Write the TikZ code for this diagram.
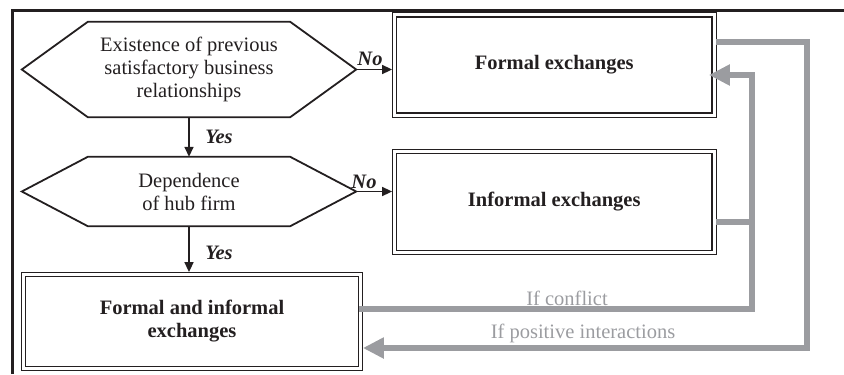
\documentclass[tikz,border=0pt]{standalone}
\usepackage{fontspec}
\setmainfont{Liberation Serif}
\usetikzlibrary{arrows.meta,calc}
\definecolor{ink}{RGB}{35,31,32}
\definecolor{flow}{RGB}{155,156,160}
\begin{document}
\begin{tikzpicture}[x=1bp,y=-1bp,
  font=\fontsize{20.5bp}{23bp}\selectfont,
  hexnode/.style={inner sep=0pt, minimum width=334bp, align=center, text=ink},
  hexline/.style={draw=ink, line width=1.8bp, line join=miter},
  dbox/.style={draw=ink, line width=1.8bp,
    inner sep=0pt, align=center, text=ink, font=\fontsize{20.5bp}{23bp}\selectfont\bfseries},
  outerline/.style={draw=ink, line width=1bp},
  blackarrow/.style={draw=ink, line width=1.6bp, -{Triangle[length=10bp,width=9bp]}},
  flowline/.style={draw=flow, line width=6bp, line join=miter},
  flowarrow/.style={flowline, -{Triangle[length=21bp,width=20bp]}},
  answer/.style={inner sep=0pt, text=ink, font=\fontsize{20.5bp}{23bp}\selectfont\bfseries\itshape},
  flowlabel/.style={inner sep=0pt, text=flow}
]
\useasboundingbox (0,0) rectangle (844,374);
% outer frame (top and left edges)
\draw[ink, line width=3bp] (12,374) -- (12,10) -- (844,10);

% decision nodes
\node[hexnode, minimum height=95bp] (h1) at (189,69.5)
  {Existence of previous\\satisfactory business\\relationships};
\draw[hexline] (h1.west) -- ($(h1.north west)+(66,0)$) -- ($(h1.north east)+(-66,0)$)
  -- (h1.east) -- ($(h1.south east)+(-66,0)$) -- ($(h1.south west)+(66,0)$) -- cycle;

\node[hexnode, minimum height=69bp] (h2) at (189,191.5)
  {Dependence\\of hub firm};
\draw[hexline] (h2.west) -- ($(h2.north west)+(66,0)$) -- ($(h2.north east)+(-66,0)$)
  -- (h2.east) -- ($(h2.south east)+(-66,0)$) -- ($(h2.south west)+(66,0)$) -- cycle;

% outcome boxes (thick inner line, thin outer line)
\node[dbox, minimum width=315.5bp, minimum height=96bp] (b1) at (554.25,65) {Formal exchanges};
\node[dbox, minimum width=315.5bp, minimum height=97bp] (b2) at (554.25,202) {Informal exchanges};
\node[dbox, minimum width=333bp, minimum height=90bp] (b3) at (192,321.5)
  {Formal and informal\\exchanges};
\foreach \b in {b1,b2,b3}
  \draw[outerline] ($(\b.north west)+(-3.5,-3.5)$) rectangle ($(\b.south east)+(3.5,3.5)$);

% black connectors
\draw[blackarrow, shorten >=3.5bp] (h1.east) -- (h1.east -| b1.west);
\draw[blackarrow, shorten >=3.5bp] (h2.east) -- (h2.east -| b2.west);
\draw[blackarrow] (h1.south) -- (h2.north);
\draw[blackarrow, shorten >=3.5bp] (h2.south) -- (h2.south |- b3.north);

\node[answer] (no1) at (370,59) {No};
\node[answer] (no2) at (364,182) {No};
\node[answer] (yes1) at (219,137) {Yes};
\node[answer] (yes2) at (219,253) {Yes};

% grey feedback loops
\coordinate (ra) at (807,42);
\coordinate (rb) at (807,348);
\coordinate (ca) at (752,75);
\coordinate (cm) at (752,222);
\coordinate (cb) at (752,309);

\draw[flowarrow, shorten <=3.5bp, shorten >=3.5bp] (b1.east |- ra) -- (ra) -- (rb) -- (b3.east |- rb);
\draw[flowarrow, shorten >=-4bp] (cb) -- (ca) -- (b1.east |- ca);
\draw[flowline] (b3.east |- cb) -- ([xshift=3bp]cb);
\draw[flowline, shorten <=3.5bp] (b2.east |- cm) -- (cm);

\node[flowlabel] (lc) at (567,298) {If conflict};
\node[flowlabel] (lp) at (583,333) {If positive interactions};
\end{tikzpicture}
\end{document}
